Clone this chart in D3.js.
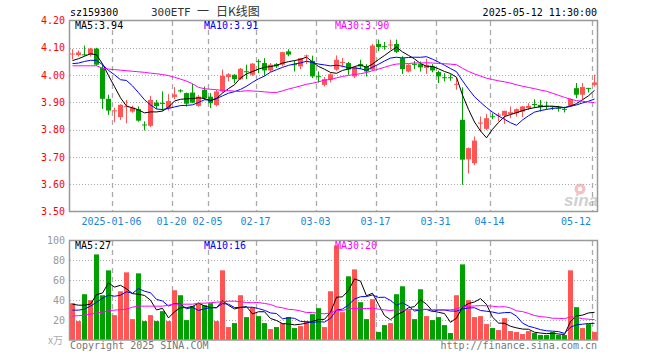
<!DOCTYPE html>
<html>
<head>
<meta charset="utf-8">
<script src="https://cdn.jsdelivr.net/npm/d3@7"></script>
<style>
  body { margin: 0; background: #fff; }
  svg { display: block; }
  text { font-family: "DejaVu Sans Mono", monospace; font-size: 10px; }
</style>
</head>
<body>
<svg id="chart" width="660" height="360"></svg>
<script>
// 300ETF daily K-line, 2024-12-25 .. 2025-05-12 (88 sessions).
const opens = [4.077,4.073,4.076,4.075,4.097,4.026,3.913,3.868,3.846,3.884,
  3.866,3.875,3.819,3.814,3.899,3.898,3.879,3.920,3.944,3.934,
  3.936,3.887,3.946,3.921,3.890,3.940,3.993,4.001,3.985,4.014,
  4.001,4.051,4.044,4.017,4.040,4.038,4.087,4.040,4.032,4.070,
  4.052,3.996,3.964,3.983,4.020,4.046,4.044,3.995,4.040,4.032,
  4.020,4.114,4.106,4.110,4.114,4.062,4.013,4.041,4.040,4.026,
  4.032,4.011,3.992,3.992,3.965,3.836,3.691,3.677,3.822,3.803,
  3.849,3.853,3.851,3.857,3.860,3.866,3.879,3.894,3.891,3.887,
  3.886,3.880,3.876,3.887,3.952,3.928,3.953,3.964];
const highs = [4.095,4.090,4.108,4.100,4.100,4.040,3.928,3.881,3.893,3.909,
  3.888,3.885,3.830,3.924,3.909,3.940,3.930,3.956,3.948,3.936,
  3.968,3.927,3.958,3.934,3.946,4.020,4.007,4.003,4.026,4.038,
  4.044,4.058,4.062,4.044,4.044,4.085,4.095,4.054,4.063,4.075,
  4.071,4.013,3.993,4.007,4.072,4.063,4.048,4.032,4.056,4.040,
  4.114,4.130,4.121,4.130,4.130,4.069,4.040,4.052,4.050,4.060,
  4.040,4.016,4.007,4.003,3.989,3.955,3.735,3.775,3.848,3.858,
  3.860,3.862,3.869,3.885,3.878,3.887,3.897,3.911,3.909,3.903,
  3.887,3.887,3.884,3.915,3.971,3.971,3.953,4.001];
const lows = [4.057,4.068,4.071,4.068,4.034,3.876,3.854,3.827,3.836,3.823,
  3.862,3.829,3.797,3.809,3.875,3.869,3.870,3.912,3.936,3.885,
  3.897,3.884,3.909,3.879,3.885,3.936,3.977,3.970,3.982,3.985,
  3.997,4.007,3.997,4.011,4.026,4.032,4.069,4.013,4.022,4.041,
  3.989,3.973,3.958,3.973,4.016,4.028,4.001,3.989,4.022,3.995,
  4.016,4.087,4.093,4.093,4.081,4.004,4.010,4.022,4.013,4.004,
  4.010,3.971,3.977,3.979,3.946,3.598,3.640,3.670,3.793,3.799,
  3.838,3.830,3.821,3.842,3.848,3.846,3.872,3.879,3.866,3.873,
  3.872,3.866,3.863,3.884,3.915,3.909,3.936,3.958];
const closes = [4.079,4.083,4.074,4.097,4.038,3.913,3.870,3.871,3.891,3.886,
  3.881,3.833,3.816,3.909,3.886,3.896,3.905,3.929,3.940,3.895,
  3.899,3.921,3.915,3.897,3.940,3.997,4.003,3.985,4.023,4.012,
  4.042,4.048,4.017,4.038,4.032,4.084,4.075,4.036,4.062,4.072,
  3.995,3.993,3.985,4.003,4.056,4.048,4.020,4.029,4.032,4.013,
  4.108,4.102,4.104,4.112,4.085,4.022,4.038,4.039,4.028,4.036,
  4.017,3.995,3.990,3.990,3.968,3.690,3.732,3.760,3.826,3.842,
  3.847,3.855,3.869,3.864,3.875,3.885,3.887,3.892,3.882,3.885,
  3.884,3.878,3.874,3.912,3.928,3.956,3.951,3.973];
// volume, 万手
const volumes = [37,19,46,40,86,45,70,25,49,68, 21,67,19,25,19,29,19,50,45,20,
  34,37,35,37,19,70,13,17,45,23, 33,24,17,11,13,17,23,12,14,19,
  26,32,13,49,95,28,64,71,38,21, 41,8,15,17,46,54,30,21,51,24,
  20,23,15,7,45,76,40,23,24,16, 12,10,22,9,8,6,9,7,5,5,
  8,5,5,70,33,12,16,8];

// Moving-average values before a full window exists (need pre-window history).
const ma5Head = [4.053,4.060,4.069,4.078];
const ma10Head = [4.042,4.044,4.050,4.054,4.054,4.038,4.017,4.001,3.983];
const ma30Head = [4.034,4.034,4.034,4.034,4.034,4.025,4.022,4.020,4.018,4.016,
  4.014,4.012,4.010,4.007,4.005,4.002,3.998,3.992,3.985,3.978,
  3.968,3.955,3.950,3.948,3.946,3.944,3.943,3.941,3.940];
const vma5Head = [36,35,35,36];
const vma10Head = [30,30,31,34,38,42,45,44,45];
const vma30Head = [24,24.5,25,26,27,28,29.5,30,30.5,31,33,34,34,34,34,34,35,36,36,36,
  36,37,37,37.5,38,38.5,39,39,38.5];

const priceTicks = [4.2,4.1,4.0,3.9,3.8,3.7,3.6,3.5];
const volTicks = [100,80,60,40,20];
const dateIdx = [7,17,23,31,41,51,61,70,87];
const dateLabels = ["2025-01-06","01-20","02-05","02-17","03-03","03-17","03-31","04-14","05-12"];
const priceMaLabels = ["MA5:3.94","MA10:3.91","MA30:3.90"];
const volMaLabels = ["MA5:27","MA10:16","MA30:20"];

const RED = "#ff5555", GREEN = "#00a000";
const MA_COLOURS = ["#000000", "#0000ff", "#ff00ff"];
const GRID = "#aaaaaa";

function rolling(values, n, head) {
  return values.map((v, i) => i < head.length ? head[i] : d3.mean(values.slice(i - n + 1, i + 1)));
}

const svg = d3.select("#chart");
const x = d3.scaleLinear().domain([0, 88]).range([70, 598]);
const yP = d3.scaleLinear().domain([3.5, 4.2]).range([211.5, 20.5]);
const yV = d3.scaleLinear().domain([0, 100]).range([340, 240.5]);
const cx = (i) => x(i) + 2.5;

// Watermark first, so candles sit on top.
svg.append("circle").attr("cx", 580).attr("cy", 189).attr("r", 5.5).attr("fill", "#f4c0c0");
svg.append("circle").attr("cx", 580).attr("cy", 189).attr("r", 2.3).attr("fill", "#fff");
svg.append("text").attr("x", 564).attr("y", 206)
  .style("font-size", "17px").style("font-style", "italic").style("font-weight", "bold")
  .style("font-family", "Liberation Sans, sans-serif")
  .attr("fill", "#d0d0d0").text("sina");

// Horizontal dotted grid.
svg.append("g").selectAll("line").data(priceTicks.slice(1, -1)).join("line")
  .attr("x1", 70).attr("x2", 597).attr("y1", (d) => Math.round(yP(d)) + 0.5).attr("y2", (d) => Math.round(yP(d)) + 0.5)
  .attr("stroke", GRID).attr("stroke-dasharray", "1,2");
svg.append("g").selectAll("line").data(volTicks.slice(1)).join("line")
  .attr("x1", 70).attr("x2", 597).attr("y1", (d) => Math.round(yV(d)) + 0.5).attr("y2", (d) => Math.round(yV(d)) + 0.5)
  .attr("stroke", GRID).attr("stroke-dasharray", "1,2");

// Vertical dashed grid at the date ticks, both panels.
for (const [y1, y2] of [[21, 211], [241, 340]]) {
  svg.append("g").selectAll("line").data(dateIdx).join("line")
    .attr("x1", (d) => x(d) + 0.5).attr("x2", (d) => x(d) + 0.5).attr("y1", y1).attr("y2", y2)
    .attr("stroke", GRID).attr("stroke-width", 1.3).attr("stroke-dasharray", "5,4");
}

// Candles.
const idx = d3.range(closes.length);
const candle = svg.append("g").selectAll("g").data(idx).join("g")
  .attr("fill", (i) => closes[i] >= opens[i] ? RED : GREEN)
  .attr("stroke", (i) => closes[i] >= opens[i] ? RED : GREEN);
candle.append("line")
  .attr("x1", cx).attr("x2", cx)
  .attr("y1", (i) => yP(highs[i])).attr("y2", (i) => yP(lows[i]));
candle.append("rect")
  .attr("stroke", "none")
  .attr("x", (i) => x(i)).attr("width", 5)
  .attr("y", (i) => yP(Math.max(opens[i], closes[i])))
  .attr("height", (i) => Math.max(1, Math.abs(yP(opens[i]) - yP(closes[i]))));

// Price MAs.
const priceMas = [rolling(closes, 5, ma5Head), rolling(closes, 10, ma10Head), rolling(closes, 30, ma30Head)];
const lineP = d3.line().x((d, i) => cx(i)).y((d) => yP(d));
priceMas.forEach((s, k) => {
  svg.append("path").attr("d", lineP(s)).attr("fill", "none").attr("stroke", MA_COLOURS[k]).attr("stroke-width", 1);
});

// Volume bars.
svg.append("g").selectAll("rect").data(idx).join("rect")
  .attr("x", (i) => x(i)).attr("width", 5)
  .attr("y", (i) => yV(volumes[i])).attr("height", (i) => yV(0) - yV(volumes[i]))
  .attr("fill", (i) => closes[i] >= opens[i] ? RED : GREEN);

const volMas = [rolling(volumes, 5, vma5Head), rolling(volumes, 10, vma10Head), rolling(volumes, 30, vma30Head)];
const lineV = d3.line().x((d, i) => cx(i)).y((d) => yV(d));
volMas.forEach((s, k) => {
  svg.append("path").attr("d", lineV(s)).attr("fill", "none").attr("stroke", MA_COLOURS[k]).attr("stroke-width", 1);
});

// Panel frames.
svg.append("rect").attr("x", 69.5).attr("y", 20.5).attr("width", 528).attr("height", 191)
  .attr("fill", "none").attr("stroke", "#999").attr("stroke-width", 1.5);
svg.append("rect").attr("x", 69.5).attr("y", 240.5).attr("width", 528).attr("height", 99.5)
  .attr("fill", "none").attr("stroke", "#999").attr("stroke-width", 1.5);

// Axes.
const axP = svg.append("g").attr("transform", "translate(69,0)")
  .call(d3.axisLeft(yP).tickValues(priceTicks).tickFormat(d3.format(".2f")).tickSize(0).tickPadding(4));
axP.select(".domain").remove();
axP.selectAll("text").attr("fill", "#ff0000").style("font-size", "10px").style("font-family", "DejaVu Sans Mono");

const axV = svg.append("g").attr("transform", "translate(69,0)")
  .call(d3.axisLeft(yV).tickValues(volTicks).tickSize(0).tickPadding(4));
axV.select(".domain").remove();
axV.selectAll("text").attr("fill", "#999").style("font-size", "10px").style("font-family", "DejaVu Sans Mono");

const axX = svg.append("g").attr("transform", "translate(0,218)")
  .call(d3.axisBottom(x).tickValues(dateIdx).tickFormat((d, k) => dateLabels[k]).tickSize(0).tickPadding(0));
axX.select(".domain").remove();
axX.selectAll("text").attr("fill", "#1a86d6").style("font-size", "10px").style("font-family", "DejaVu Sans Mono")
  .attr("dx", -1)
  .filter((d, k) => k === dateIdx.length - 1).attr("text-anchor", "end").attr("dx", -1.5);

// Header texts.
svg.append("text").attr("x", 70).attr("y", 16).attr("fill", "#000").text("sz159300");
svg.append("text").attr("x", 151).attr("y", 16).attr("fill", "#333").style("font-size", "11px").text("300ETF");
svg.append("text").attr("x", 197).attr("y", 16).attr("fill", "#333")
  .style("font-family", "Noto Sans CJK SC").style("font-size", "12px").text("一");
svg.append("text").attr("x", 216).attr("y", 16).attr("fill", "#333")
  .style("font-family", "Noto Sans CJK SC").style("font-size", "12px").text("日K线图");
svg.append("text").attr("x", 597).attr("y", 16).attr("text-anchor", "end").attr("fill", "#000").text("2025-05-12 11:30:00");

const maX = [75, 204, 335];
priceMaLabels.forEach((t, k) => svg.append("text").attr("x", maX[k]).attr("y", 29).attr("fill", MA_COLOURS[k]).text(t));
volMaLabels.forEach((t, k) => svg.append("text").attr("x", maX[k]).attr("y", 249).attr("fill", MA_COLOURS[k]).text(t));

svg.append("text").attr("x", 48).attr("y", 344).attr("fill", "#aaa")
  .style("font-family", "Noto Sans CJK SC").style("font-size", "10px").text("x万");
svg.append("text").attr("x", 70).attr("y", 349).attr("fill", "#777").text("Copyright 2025 SINA.COM");
svg.append("text").attr("x", 597).attr("y", 349).attr("text-anchor", "end").attr("fill", "#777").text("http://finance.sina.com.cn");
</script>
</body>
</html>
